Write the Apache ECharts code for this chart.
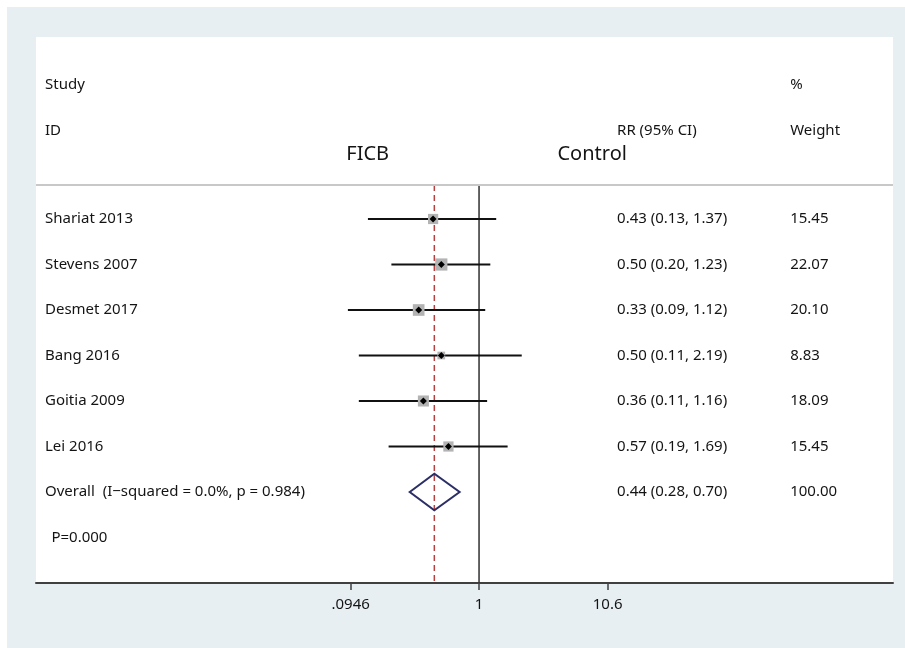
<!DOCTYPE html>
<html>
<head>
<meta charset="utf-8">
<script src="https://cdn.jsdelivr.net/npm/echarts@6/dist/echarts.min.js"></script>
<style>
html,body{margin:0;padding:0;background:#fff;}
#main{width:905px;height:648px;}
</style>
</head>
<body>
<div id="main"></div>
<script>
// ---- data ----
const studies = ['Shariat 2013','Stevens 2007','Desmet 2017','Bang 2016','Goitia 2009','Lei 2016'];
const rr      = [0.43, 0.50, 0.33, 0.50, 0.36, 0.57];
const lower   = [0.13, 0.20, 0.09, 0.11, 0.11, 0.19];
const upper   = [1.37, 1.23, 1.12, 2.19, 1.16, 1.69];
const weights = [15.45, 22.07, 20.10, 8.83, 18.09, 15.45];
const rrText  = ['0.43 (0.13, 1.37)','0.50 (0.20, 1.23)','0.33 (0.09, 1.12)','0.50 (0.11, 2.19)','0.36 (0.11, 1.16)','0.57 (0.19, 1.69)'];
const weightText = ['15.45','22.07','20.10','8.83','18.09','15.45'];
const overallLabel = 'Overall  (I\u2212squared = 0.0%, p = 0.984)';
const overallRR = 0.44, overallLo = 0.28, overallHi = 0.70;
const overallText = '0.44 (0.28, 0.70)';
const overallWeight = '100.00';
const pText = 'P=0.000';
const tickValues = [0.0946, 1, 10.6];
const tickLabels = ['.0946', '1', '10.6'];

// ---- layout (rows on y axis, text columns on a hidden 0-100 axis) ----
const L = Math.log10;
const yMin = -3, yMax = 9, sepRow = 0.25;
const colStudy = 1.05, colRR = 67.8, colW = 88.0, colP = 1.8;
const nRows = studies.length;
const overallRow = nRows + 1, pRow = nRows + 2;
const font = 'Noto Sans';
const txtColor = '#141414';

function textSeries(items, size, align) {
  return {
    type: 'scatter', xAxisIndex: 1, yAxisIndex: 0, symbolSize: 0, silent: true,
    itemStyle: { opacity: 1 },
    data: items.map(it => ({ value: [it[0], it[1]], name: it[2] })),
    label: {
      show: true, position: align === 'center' ? 'inside' : 'right', distance: 0,
      formatter: '{b}', color: txtColor, fontFamily: font, fontSize: size, opacity: 1
    },
    z: 10
  };
}

const studyItems = studies.map((s, i) => [colStudy, i + 1, s]).concat([[colStudy, overallRow, overallLabel], [colP, pRow, pText]]);
const rrItems = rrText.map((s, i) => [colRR, i + 1, s]).concat([[colRR, overallRow, overallText]]);
const wItems = weightText.map((s, i) => [colW, i + 1, s]).concat([[colW, overallRow, overallWeight]]);
const headerItems = [[colStudy, -1.95, 'Study'], [colW, -1.95, '%'], [colStudy, -0.95, 'ID'], [colRR, -0.95, 'RR (95% CI)'], [colW, -0.95, 'Weight']];
const bigItems = [[38.7, -0.42, 'FICB'], [64.9, -0.42, 'Control']];

const chart = echarts.init(document.getElementById('main'));
const option = {
  backgroundColor: '#ffffff',
  animation: false,
  graphic: [{
    type: 'rect', left: 7, top: 7, shape: { width: 898, height: 641 },
    style: { fill: '#e8eff2' }, z: -10, silent: true
  }],
  grid: { left: 36, right: 12, top: 37, bottom: 65, show: true, backgroundColor: '#ffffff', borderWidth: 0 },
  xAxis: [{
    type: 'value', min: -3.533, max: 3.301,
    splitLine: { show: false },
    axisLine: { onZero: false, lineStyle: { color: '#404040', width: 2 } },
    axisTick: { customValues: tickValues.map(L), length: 7, lineStyle: { color: '#404040', width: 1.5 } },
    axisLabel: {
      customValues: tickValues.map(L), margin: 14, color: txtColor, fontFamily: font, fontSize: 15,
      formatter: v => { const i = tickValues.findIndex(t => Math.abs(L(t) - v) < 1e-6); return i >= 0 ? tickLabels[i] : ''; }
    }
  }, {
    type: 'value', min: 0, max: 100, show: false
  }],
  yAxis: [{ type: 'value', min: yMin, max: yMax, inverse: true, show: false }],
  series: [
    // separator line
    {
      type: 'line', data: [], silent: true,
      markLine: { symbol: 'none', silent: true, label: { show: false },
        lineStyle: { color: '#c8c8c8', width: 2, type: 'solid' }, data: [{ yAxis: sepRow }] }
    },
    // null line at 1
    {
      type: 'line', silent: true, symbol: 'none', data: [[L(1), sepRow], [L(1), yMax]],
      lineStyle: { color: '#303030', width: 1.5 }, z: 2
    },
    // overall dashed line
    {
      type: 'line', silent: true, symbol: 'none', data: [[L(overallRR), sepRow], [L(overallRR), yMax]],
      lineStyle: { color: '#b5403f', width: 1.5, type: [6, 4] }, z: 2
    },
    // CI lines
    {
      type: 'custom', silent: true, z: 3,
      data: studies.map((s, i) => [L(lower[i]), L(upper[i]), i + 1]),
      encode: { x: [0, 1], y: 2 },
      renderItem: (params, api) => {
        const a = api.coord([api.value(0), api.value(2)]);
        const b = api.coord([api.value(1), api.value(2)]);
        return { type: 'line', shape: { x1: a[0], y1: a[1], x2: b[0], y2: b[1] }, style: { stroke: '#111', lineWidth: 2 } };
      }
    },
    // weight squares
    {
      type: 'scatter', silent: true, z: 4, symbol: 'rect',
      data: studies.map((s, i) => [L(rr[i]), i + 1, weights[i]]),
      symbolSize: v => Math.sqrt(v[2]) * 2.6,
      itemStyle: { color: '#b3b3b3', opacity: 1 }
    },
    // point estimates
    {
      type: 'scatter', silent: true, z: 5, symbol: 'diamond', symbolSize: 7,
      data: studies.map((s, i) => [L(rr[i]), i + 1]),
      itemStyle: { color: '#000', opacity: 1 }
    },
    // overall diamond
    {
      type: 'custom', silent: true, z: 5,
      data: [[L(overallLo), L(overallRR), L(overallHi), overallRow]],
      encode: { x: [0, 2], y: 3 },
      renderItem: (params, api) => {
        const y = api.value(3), h = 0.4;
        const p1 = api.coord([api.value(0), y]);
        const p2 = api.coord([api.value(1), y - h]);
        const p3 = api.coord([api.value(2), y]);
        const p4 = api.coord([api.value(1), y + h]);
        return { type: 'polygon', shape: { points: [p1, p2, p3, p4] }, style: { fill: 'none', stroke: '#2b2f66', lineWidth: 2 } };
      }
    },
    textSeries(studyItems, 15, 'left'),
    textSeries(rrItems, 15, 'left'),
    textSeries(wItems, 15, 'left'),
    textSeries(headerItems, 15, 'left'),
    textSeries(bigItems, 20, 'center')
  ]
};
chart.setOption(option);
</script>
</body>
</html>
